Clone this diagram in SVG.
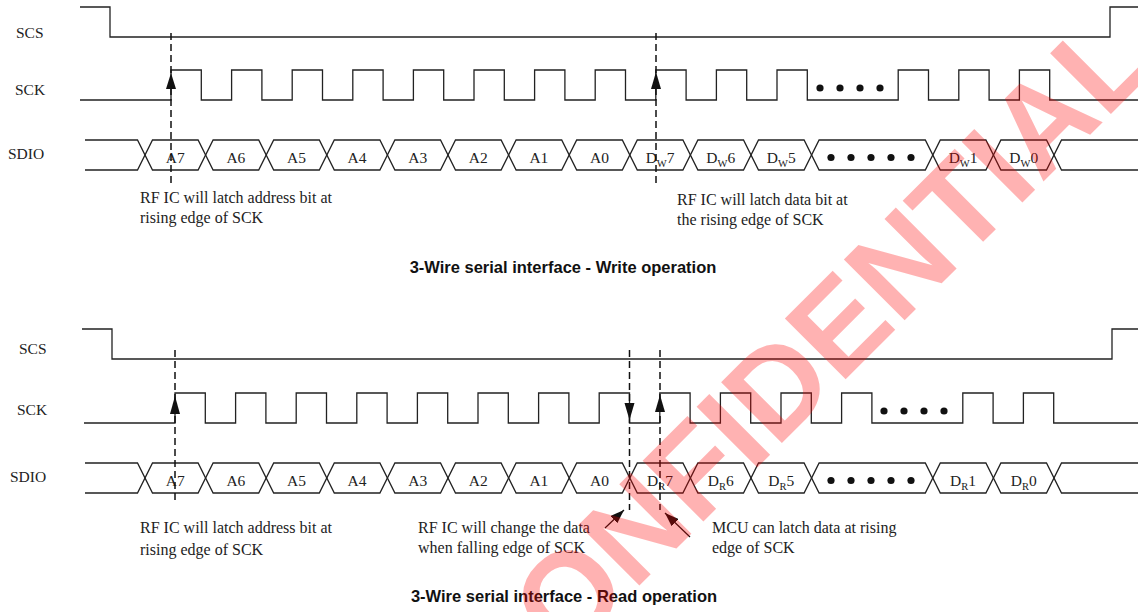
<svg xmlns="http://www.w3.org/2000/svg" xmlns:xlink="http://www.w3.org/1999/xlink" width="1138" height="612" viewBox="0 0 1138 612">
<style>
.wave{fill:none;stroke:#222;stroke-width:1.3}
.dash{fill:none;stroke:#111;stroke-width:1.5;stroke-dasharray:7,4}
.head{fill:#111}
.dot{fill:#111}
.sig{font-family:"Liberation Serif","Times New Roman",serif;font-size:15.5px;fill:#222}
.cell{font-family:"Liberation Serif","Times New Roman",serif;font-size:15.5px;fill:#222;text-anchor:middle}
.sub{font-size:10.5px}
.note{font-family:"Liberation Serif","Times New Roman",serif;font-size:16px;fill:#222}
.title{font-family:"Liberation Sans",Arial,sans-serif;font-size:16.5px;font-weight:bold;fill:#111;text-anchor:middle}
.wm{font-family:"Liberation Sans",Arial,sans-serif;font-size:125px;font-weight:bold;fill:#ff0000;fill-opacity:0.3;text-anchor:middle}
</style>
<defs>
<marker id="ah" viewBox="0 0 14 10" refX="14" refY="5" markerWidth="14" markerHeight="10" markerUnits="userSpaceOnUse" orient="auto">
<path d="M0,0 L14,5 L0,10 Z" fill="#111"/>
</marker>
<g id="bus">
<path class="wave" d="M85,140 H137.5 L152.5,170 H198.1 L213.1,140 H258.7 L273.7,170 H319.3 L334.3,140 H379.9 L394.9,170 H440.5 L455.5,140 H501.1 L516.1,170 H561.7 L576.7,140 H622.3 L637.3,170 H682.9 L697.9,140 H743.5 L758.5,170 H804.1 L819.1,140 H925.3 L940.3,170 H985.9 L1000.9,140 H1046.5 L1061.5,170 H1138"/>
<path class="wave" d="M85,170 H137.5 L152.5,140 H198.1 L213.1,170 H258.7 L273.7,140 H319.3 L334.3,170 H379.9 L394.9,140 H440.5 L455.5,170 H501.1 L516.1,140 H561.7 L576.7,170 H622.3 L637.3,140 H682.9 L697.9,170 H743.5 L758.5,140 H804.1 L819.1,170 H925.3 L940.3,140 H985.9 L1000.9,170 H1046.5 L1061.5,140 H1138"/>
<circle class="dot" cx="831" cy="157.5" r="3.6"/>
<circle class="dot" cx="851" cy="157.5" r="3.6"/>
<circle class="dot" cx="871" cy="157.5" r="3.6"/>
<circle class="dot" cx="891" cy="157.5" r="3.6"/>
<circle class="dot" cx="911" cy="157.5" r="3.6"/>
<text class="cell" x="175.3" y="163">A7</text>
<text class="cell" x="235.9" y="163">A6</text>
<text class="cell" x="296.5" y="163">A5</text>
<text class="cell" x="357.1" y="163">A4</text>
<text class="cell" x="417.7" y="163">A3</text>
<text class="cell" x="478.3" y="163">A2</text>
<text class="cell" x="538.9" y="163">A1</text>
<text class="cell" x="599.5" y="163">A0</text>
</g>
</defs>

<g id="write-operation">
<g id="w-scs">
<text class="sig" x="16" y="38">SCS</text>
<path class="wave" d="M80,7 H110 V37 H1110 V7 H1138"/>
</g>
<g id="w-sck">
<text class="sig" x="15" y="95">SCK</text>
<path class="wave" d="M80,100 H171 V70 H201.3 V100 H231.6 V70 H261.9 V100 H292.2 V70 H322.5 V100 H352.8 V70 H383.1 V100 H413.4 V70 H443.7 V100 H474 V70 H504.3 V100 H534.6 V70 H564.9 V100 H595.2 V70 H625.5 V100 H655.8 V70 H686.1 V100 H716.4 V70 H746.7 V100 H777 V70 H807.3 V100 H898.2 V70 H928.5 V100 H958.8 V70 H989.1 V100 H1019.4 V70 H1049.7 V100 H1138"/>
<circle class="dot" cx="820" cy="88" r="3.6"/>
<circle class="dot" cx="840" cy="88" r="3.6"/>
<circle class="dot" cx="860" cy="88" r="3.6"/>
<circle class="dot" cx="880" cy="88" r="3.6"/>
</g>
<g id="w-sdio">
<text class="sig" x="8" y="159">SDIO</text>
<use xlink:href="#bus"/>
<text class="cell" x="660.1" y="163">D<tspan class="sub" dy="4">W</tspan><tspan dy="-4">7</tspan></text>
<text class="cell" x="720.7" y="163">D<tspan class="sub" dy="4">W</tspan><tspan dy="-4">6</tspan></text>
<text class="cell" x="781.3" y="163">D<tspan class="sub" dy="4">W</tspan><tspan dy="-4">5</tspan></text>
<text class="cell" x="963.1" y="163">D<tspan class="sub" dy="4">W</tspan><tspan dy="-4">1</tspan></text>
<text class="cell" x="1023.7" y="163">D<tspan class="sub" dy="4">W</tspan><tspan dy="-4">0</tspan></text>
</g>
<g id="w-note-addr">
<text class="note" x="140" y="203">RF IC will latch address bit at</text>
<text class="note" x="140" y="223">rising edge of SCK</text>
</g>
<g id="w-note-data">
<text class="note" x="677" y="205">RF IC will latch data bit at</text>
<text class="note" x="677" y="225">the rising edge of SCK</text>
</g>
<text id="w-title" class="title" x="563" y="273">3-Wire serial interface - Write operation</text>
</g>

<g id="read-operation">
<g id="r-scs">
<text class="sig" x="19" y="354">SCS</text>
<path class="wave" d="M82,329 H112 V359 H1112 V329 H1138"/>
</g>
<g id="r-sck">
<text class="sig" x="17" y="415">SCK</text>
<path class="wave" d="M84,423 H175 V393 H205.3 V423 H235.6 V393 H265.9 V423 H296.2 V393 H326.5 V423 H356.8 V393 H387.1 V423 H417.4 V393 H447.7 V423 H478 V393 H508.3 V423 H538.6 V393 H568.9 V423 H599.2 V393 H629.5 V423 H659.8 V393 H690.1 V423 H720.4 V393 H750.7 V423 H781 V393 H811.3 V423 H841.6 V393 H871.9 V423 H962.8 V393 H993.1 V423 H1023.4 V393 H1053.7 V423 H1138"/>
<circle class="dot" cx="884" cy="411" r="3.6"/>
<circle class="dot" cx="904" cy="411" r="3.6"/>
<circle class="dot" cx="924" cy="411" r="3.6"/>
<circle class="dot" cx="944" cy="411" r="3.6"/>
</g>
<g id="r-sdio">
<text class="sig" x="10" y="482">SDIO</text>
<use xlink:href="#bus" transform="translate(0,323)"/>
<text class="cell" x="660.1" y="486">D<tspan class="sub" dy="4">R</tspan><tspan dy="-4">7</tspan></text>
<text class="cell" x="720.7" y="486">D<tspan class="sub" dy="4">R</tspan><tspan dy="-4">6</tspan></text>
<text class="cell" x="781.3" y="486">D<tspan class="sub" dy="4">R</tspan><tspan dy="-4">5</tspan></text>
<text class="cell" x="963.1" y="486">D<tspan class="sub" dy="4">R</tspan><tspan dy="-4">1</tspan></text>
<text class="cell" x="1023.7" y="486">D<tspan class="sub" dy="4">R</tspan><tspan dy="-4">0</tspan></text>
</g>
<g id="r-note-addr">
<text class="note" x="140" y="533">RF IC will latch address bit at</text>
<text class="note" x="140" y="555">rising edge of SCK</text>
</g>
<g id="r-note-change">
<text class="note" x="418" y="533">RF IC will change the data</text>
<text class="note" x="418" y="553">when falling edge of SCK</text>
</g>
<g id="r-note-mcu">
<text class="note" x="712" y="533">MCU can latch data at rising</text>
<text class="note" x="712" y="553">edge of SCK</text>
</g>
<text id="r-title" class="title" x="564" y="602">3-Wire serial interface - Read operation</text>
</g>

<g id="connectors">
<line class="dash" x1="171" y1="33" x2="171" y2="186"/>
<polygon class="head" points="171,73 166,89 176,89"/>
<line class="dash" x1="656" y1="33" x2="656" y2="186"/>
<polygon class="head" points="656,72 651,89 661,89"/>
<line class="dash" x1="175" y1="350" x2="175" y2="500"/>
<polygon class="head" points="175,396 170,414 180,414"/>
<line class="dash" x1="629.5" y1="350" x2="629.5" y2="510"/>
<polygon class="head" points="629.5,420 624.5,403 634.5,403"/>
<line class="dash" x1="660" y1="350" x2="660" y2="510"/>
<polygon class="head" points="660,395 655,412 665,412"/>
<line stroke="#111" stroke-width="1.2" x1="605" y1="528" x2="624" y2="510" marker-end="url(#ah)"/>
<line stroke="#111" stroke-width="1.2" x1="690" y1="537" x2="665" y2="513" marker-end="url(#ah)"/>
</g>

<text id="watermark" class="wm" x="830" y="395" transform="rotate(-45 830 395)">CONFIDENTIAL</text>
</svg>
